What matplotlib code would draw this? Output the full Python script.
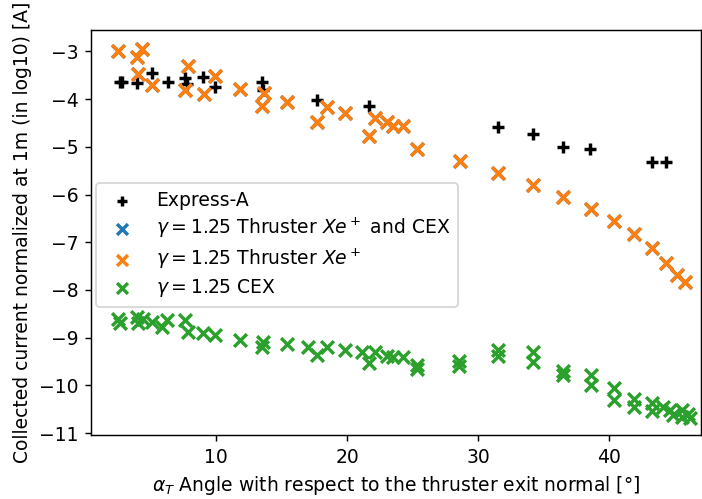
import matplotlib
matplotlib.use('Agg')
import matplotlib.pyplot as plt

plt.rcParams['font.size'] = 10.4

# Express-A flight data
express_x = [2.68, 2.83, 3.95, 5.10, 6.32, 7.64, 7.81, 9.03, 9.92, 13.49, 13.61,
             17.68, 21.69, 31.53, 34.20, 36.49, 38.53, 43.23, 44.30]
express_y = [-3.65, -3.65, -3.67, -3.46, -3.65, -3.56, -3.69, -3.54, -3.74, -3.64, -3.81,
             -4.02, -4.14, -4.58, -4.74, -5.00, -5.05, -5.31, -5.31]

# thruster Xe+ (gamma = 1.25)
thr_x = [2.55, 4.33, 3.95, 4.07, 5.10, 7.89, 7.64, 9.11, 9.92, 11.83, 13.69, 13.53,
         15.39, 17.68, 18.49, 19.84, 21.69, 22.13, 23.02, 23.52, 24.29,
         25.31, 28.61, 31.53, 34.20, 36.49, 38.58, 40.38, 41.91, 43.23, 44.30, 45.14, 45.77]
thr_y = [-2.99, -2.95, -3.11, -3.47, -3.70, -3.30, -3.81, -3.89, -3.51, -3.79, -3.88, -4.15,
         -4.05, -4.47, -4.16, -4.30, -4.77, -4.40, -4.49, -4.56, -4.56,
         -5.05, -5.30, -5.54, -5.81, -6.05, -6.30, -6.56, -6.83, -7.13, -7.43, -7.69, -7.84]

# thruster Xe+ and CEX, sits under the thruster points
tot_x = thr_x
tot_y = thr_y

# CEX (gamma = 1.25)
cex_x = [2.55, 2.70, 3.95, 4.07, 4.45, 5.10, 5.86, 6.24, 7.64, 7.89, 9.03, 9.92,
         11.83, 13.61, 13.49, 15.39, 17.04, 17.68, 18.49, 19.84, 21.11, 21.69, 22.13,
         23.02, 23.52, 24.29, 25.31, 25.31, 28.56, 28.56, 31.53, 31.53, 34.20, 34.20,
         36.49, 36.49, 38.58, 38.58, 40.38, 40.38, 41.91, 41.91, 43.23, 43.23,
         44.13, 44.63, 44.89, 45.51, 45.51, 46.02, 46.15]
cex_y = [-8.61, -8.69, -8.56, -8.70, -8.60, -8.67, -8.77, -8.63, -8.63, -8.88, -8.90, -8.95,
         -9.05, -9.09, -9.20, -9.13, -9.19, -9.36, -9.19, -9.25, -9.30, -9.54, -9.30,
         -9.39, -9.40, -9.40, -9.57, -9.66, -9.48, -9.60, -9.25, -9.39, -9.30, -9.51,
         -9.70, -9.78, -9.78, -9.99, -10.06, -10.31, -10.29, -10.46, -10.36, -10.53,
         -10.46, -10.52, -10.62, -10.52, -10.66, -10.59, -10.68]

fig, ax = plt.subplots(figsize=(702/130, 499/130), dpi=130)
fig.subplots_adjust(left=0.1296, right=0.9981, top=0.9399, bottom=0.1283)

ax.scatter(express_x, express_y, marker='+', color='black', s=46, linewidths=1.9, label='Express-A')
ax.scatter(tot_x, tot_y, marker='x', color='C0', s=50, linewidths=1.9,
           label=r'$\gamma = 1.25$ Thruster $Xe^+$ and CEX')
ax.scatter(thr_x, thr_y, marker='x', color='C1', s=50, linewidths=1.9,
           label=r'$\gamma = 1.25$ Thruster $Xe^+$')
ax.scatter(cex_x, cex_y, marker='x', color='C2', s=50, linewidths=1.9, label=r'$\gamma = 1.25$ CEX')

ax.set_xlim(0.465, 46.97)
ax.set_ylim(-11.04, -2.551)
ax.set_xlabel(r'$\alpha_T$ Angle with respect to the thruster exit normal [°]')
ax.set_ylabel('Collected current normalized at 1m (in log10) [A]')
ax.legend(loc='center left', bbox_to_anchor=(0.008, 0.469), borderaxespad=0,
          markerscale=0.85, labelspacing=0.34)

fig.savefig('out.png', dpi=130)
